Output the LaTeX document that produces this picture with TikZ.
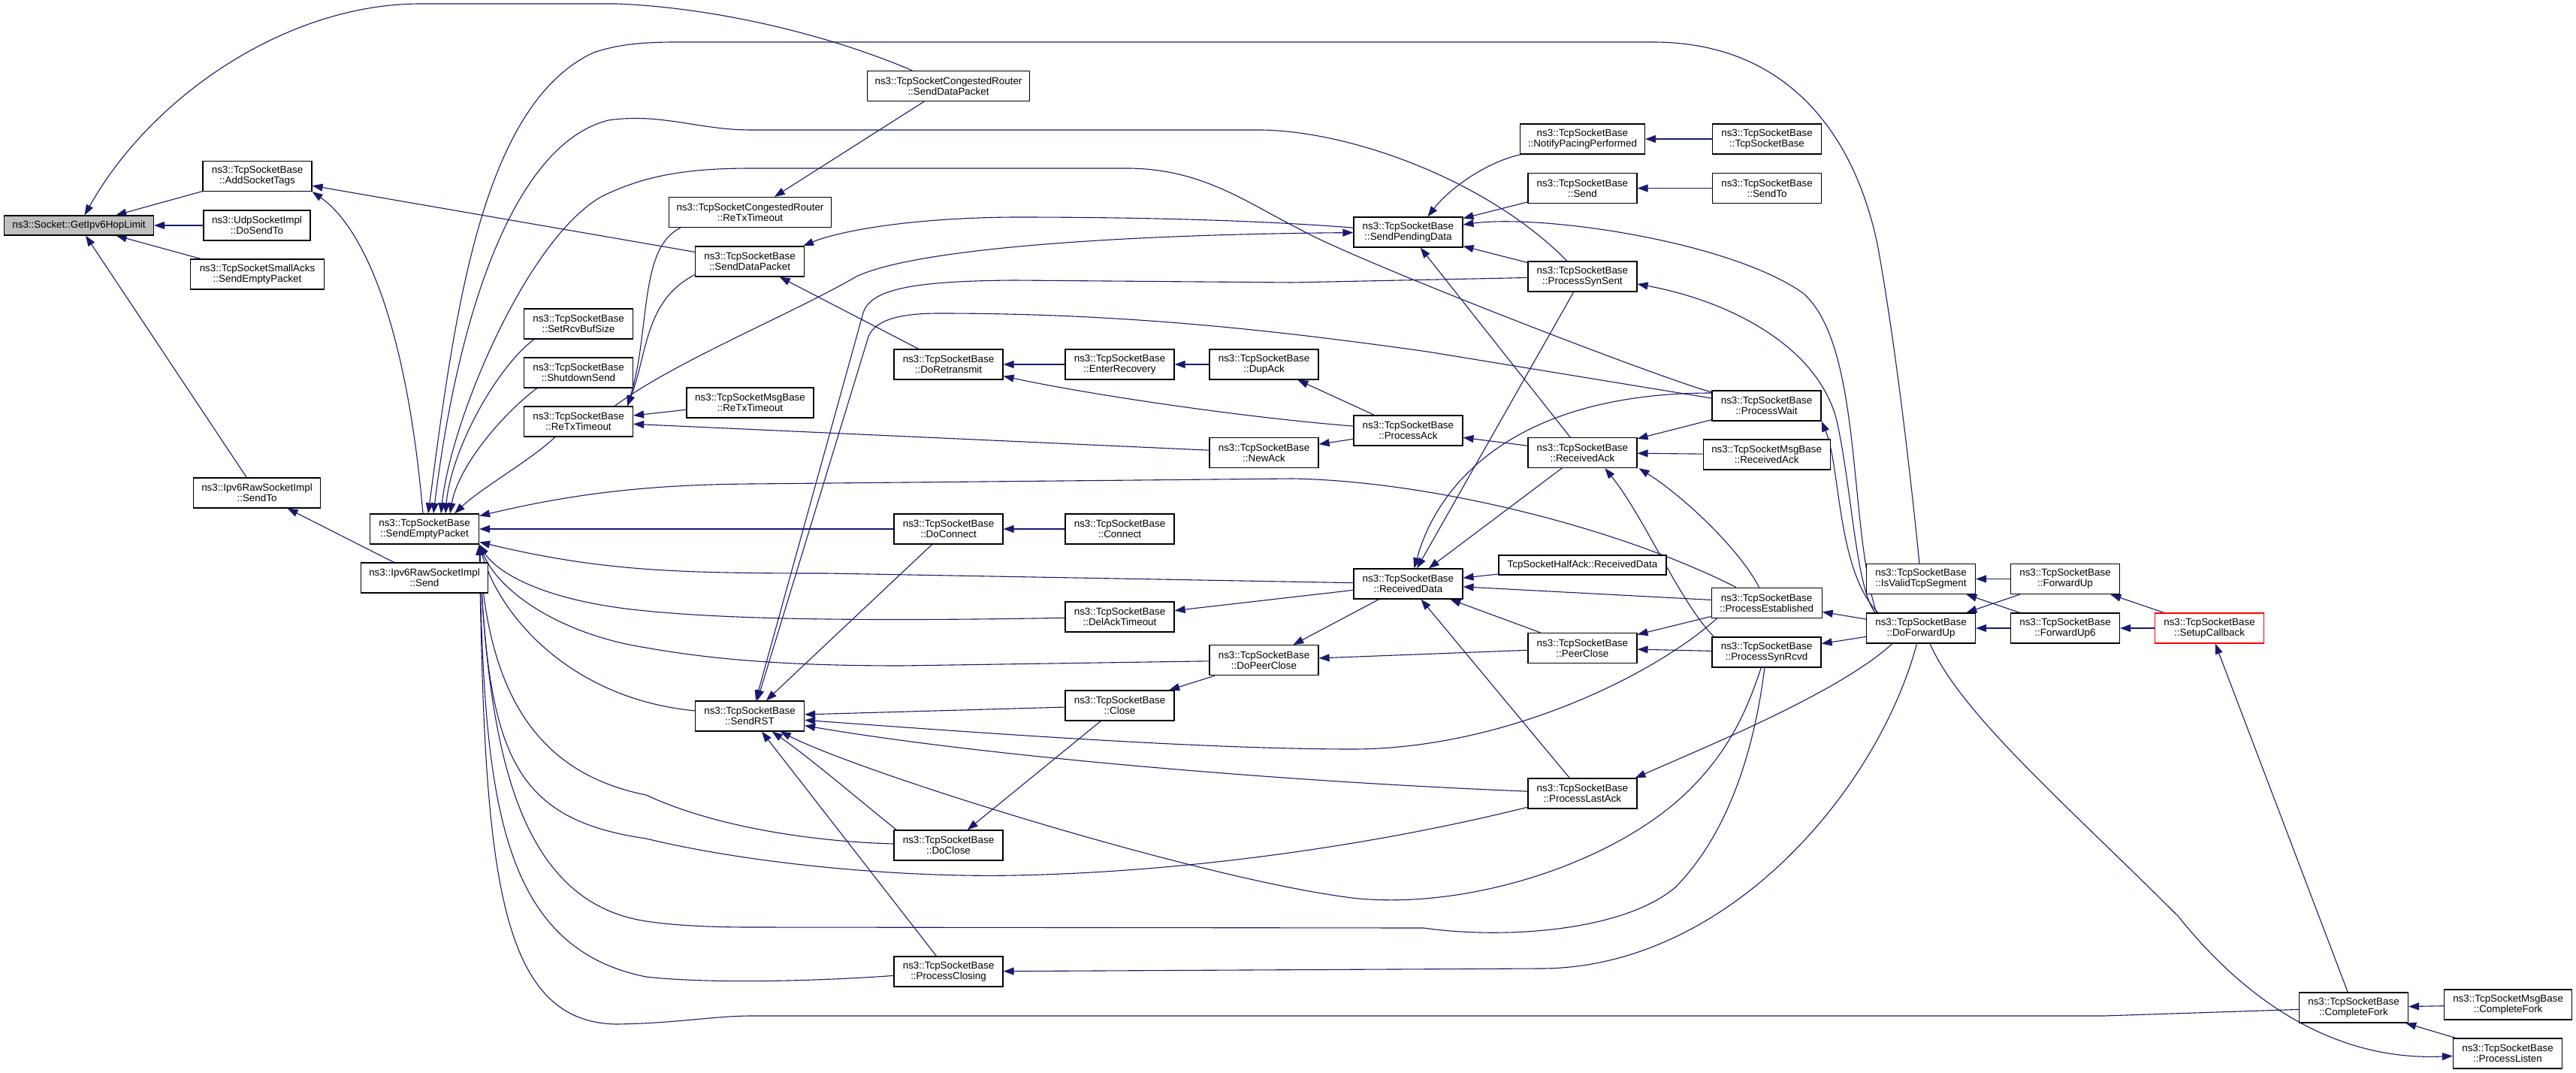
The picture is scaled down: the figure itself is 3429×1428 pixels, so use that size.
\documentclass[tikz,border=0pt]{standalone}
\usepackage{fontspec}
\setmainfont{Liberation Sans}
\usetikzlibrary{arrows.meta,calc}
\definecolor{mb}{HTML}{191970}
\definecolor{gbox}{HTML}{BFBFBF}
\pgfdeclarelayer{back}
\pgfdeclarelayer{edges}
\pgfsetlayers{back,edges,main}
\tikzset{
 nb/.style={draw=black, line width=0.6pt, fill=white, rectangle, inner sep=0pt, minimum height=20pt, minimum width=72.5pt, align=center, font=\fontsize{6.7}{7}\selectfont},
 e/.style={draw=mb, line width=0.55pt, {Triangle[length=7pt,width=5pt]}-}
}
\begin{document}
\begin{tikzpicture}[x=0.5pt,y=-0.5pt]
\useasboundingbox (0,0) rectangle (3429,1428);
\begin{pgfonlayer}{back}
\fill[white] (0,0) rectangle (3429,1428);
\end{pgfonlayer}
% nodes
\node[nb, fill=gbox, minimum width=99.5pt, minimum height=13pt] (G) at (105,300) {ns3::Socket::GetIpv6HopLimit};
\node[nb] (AST) at (342.5,234.5) {ns3::TcpSocketBase\\::AddSocketTags};
\node[nb, minimum width=71pt] (UDP) at (342,300) {ns3::UdpSocketImpl\\::DoSendTo};
\node[nb, minimum width=89pt] (SA) at (342.5,365) {ns3::TcpSocketSmallAcks\\::SendEmptyPacket};
\node[nb, minimum width=84.5pt] (RSTo) at (342,656) {ns3::Ipv6RawSocketImpl\\::SendTo};
\node[nb] (SEP) at (565,704) {ns3::TcpSocketBase\\::SendEmptyPacket};
\node[nb, minimum width=84.5pt] (RSend) at (565,769) {ns3::Ipv6RawSocketImpl\\::Send};
\node[nb] (SRB) at (770,431) {ns3::TcpSocketBase\\::SetRcvBufSize};
\node[nb] (SDS) at (770,496) {ns3::TcpSocketBase\\::ShutdownSend};
\node[nb] (RTO) at (770,561) {ns3::TcpSocketBase\\::ReTxTimeout};
\node[nb, minimum width=108pt] (CRSDP) at (1262.5,114.5) {ns3::TcpSocketCongestedRouter\\::SendDataPacket};
\node[nb, minimum width=108pt] (CRRTO) at (998.5,282.5) {ns3::TcpSocketCongestedRouter\\::ReTxTimeout};
\node[nb] (SDP) at (998,348) {ns3::TcpSocketBase\\::SendDataPacket};
\node[nb, minimum width=84.5pt] (MRTO) at (998.5,536) {ns3::TcpSocketMsgBase\\::ReTxTimeout};
\node[nb] (RST) at (998,953) {ns3::TcpSocketBase\\::SendRST};
\node[nb] (DRT) at (1262.5,485) {ns3::TcpSocketBase\\::DoRetransmit};
\node[nb] (DC) at (1262.5,704) {ns3::TcpSocketBase\\::DoConnect};
\node[nb] (DCL) at (1262.5,1125) {ns3::TcpSocketBase\\::DoClose};
\node[nb] (PCL) at (1262.5,1293) {ns3::TcpSocketBase\\::ProcessClosing};
\node[nb] (ER) at (1490.5,485) {ns3::TcpSocketBase\\::EnterRecovery};
\node[nb] (CON) at (1490.5,704) {ns3::TcpSocketBase\\::Connect};
\node[nb] (DAT) at (1490.5,821) {ns3::TcpSocketBase\\::DelAckTimeout};
\node[nb] (CLO) at (1490.5,939) {ns3::TcpSocketBase\\::Close};
\node[nb] (DA) at (1682.5,485) {ns3::TcpSocketBase\\::DupAck};
\node[nb] (NA) at (1682.5,602.5) {ns3::TcpSocketBase\\::NewAck};
\node[nb] (DPC) at (1682.5,878.7) {ns3::TcpSocketBase\\::DoPeerClose};
\node[nb] (SPD) at (1874.4,309) {ns3::TcpSocketBase\\::SendPendingData};
\node[nb] (PA) at (1874.4,573) {ns3::TcpSocketBase\\::ProcessAck};
\node[nb] (RD) at (1874.4,777) {ns3::TcpSocketBase\\::ReceivedData};
\node[nb, minimum width=83pt] (NPP) at (2106.4,185) {ns3::TcpSocketBase\\::NotifyPacingPerformed};
\node[nb] (SND) at (2106.4,250.5) {ns3::TcpSocketBase\\::Send};
\node[nb] (PSS) at (2106.4,368) {ns3::TcpSocketBase\\::ProcessSynSent};
\node[nb] (RA) at (2106.4,602.5) {ns3::TcpSocketBase\\::ReceivedAck};
\node[nb, minimum width=111.5pt, minimum height=13pt] (HA) at (2106.4,752) {TcpSocketHalfAck::ReceivedData};
\node[nb] (PC) at (2106.4,862.5) {ns3::TcpSocketBase\\::PeerClose};
\node[nb] (PLA) at (2106.4,1056) {ns3::TcpSocketBase\\::ProcessLastAck};
\node[nb] (TSBC) at (2352,185) {ns3::TcpSocketBase\\::TcpSocketBase};
\node[nb] (SNDT) at (2352,250.5) {ns3::TcpSocketBase\\::SendTo};
\node[nb] (PW) at (2351.5,540) {ns3::TcpSocketBase\\::ProcessWait};
\node[nb, minimum width=84.5pt] (MRA) at (2351.6,605) {ns3::TcpSocketMsgBase\\::ReceivedAck};
\node[nb, minimum width=73.5pt] (PE) at (2351.6,802.3) {ns3::TcpSocketBase\\::ProcessEstablished};
\node[nb] (PSR) at (2351.5,868) {ns3::TcpSocketBase\\::ProcessSynRcvd};
\node[nb] (IVT) at (2557,770.5) {ns3::TcpSocketBase\\::IsValidTcpSegment};
\node[nb] (DFU) at (2557,836) {ns3::TcpSocketBase\\::DoForwardUp};
\node[nb] (FU) at (2749,770.5) {ns3::TcpSocketBase\\::ForwardUp};
\node[nb] (FU6) at (2749,836) {ns3::TcpSocketBase\\::ForwardUp6};
\node[nb, draw=red] (SC) at (2941,836) {ns3::TcpSocketBase\\::SetupCallback};
\node[nb] (CF) at (3133,1341) {ns3::TcpSocketBase\\::CompleteFork};
\node[nb, minimum width=85pt] (MCF) at (3338.6,1337) {ns3::TcpSocketMsgBase\\::CompleteFork};
\node[nb] (PL) at (3338,1402) {ns3::TcpSocketBase\\::ProcessListen};
% edges
\begin{pgfonlayer}{edges}
% straight
\draw[e] (G) -- (AST);
\draw[e] (G) -- (UDP);
\draw[e] (G) -- (SA);
\draw[e] (G) -- (RSTo);
\draw[e] (RSTo) -- (RSend);
\draw[e] (AST) -- (SDP);
\draw[e] (CRRTO) -- (CRSDP);
\draw[e] (SDP) -- (DRT);
\draw[e] (DRT) -- (ER);
\draw[e] (ER) -- (DA);
\draw[e] (RTO) -- (MRTO);
\draw[e] (RTO) -- (NA);
\draw[e] (SEP) -- (DC);
\draw[e] (DC) -- (CON);
\draw[e] (RST) -- (DC);
\draw[e] (RST) -- (CLO);
\draw[e] (RST) -- (PCL);
\draw[e] (DCL) -- (CLO);
\draw[e] (CLO) -- (DPC);
\draw[e] (DPC) -- (PC);
\draw[e] (DPC) -- (RD);
\draw[e] (DAT) -- (RD);
\draw[e] (NA) -- (PA);
\draw[e] (DA) -- (PA);
\draw[e] (PA) -- (RA);
\draw[e] (SPD) -- (SND);
\draw[e] (SPD) -- (PSS);
\draw[e] (SPD) -- (RA);
\draw[e] (NPP) -- (TSBC);
\draw[e] (SND) -- (SNDT);
\draw[e] (RD) -- (PSS);
\draw[e] (RD) -- (RA);
\draw[e] (RD) -- (HA);
\draw[e] (RD) -- (PE);
\draw[e] (RD) -- (PC);
\draw[e] (RD) -- (PLA);
\draw[e] (RA) -- (PW);
\draw[e] (RA) -- (MRA);
\draw[e] (PC) -- (PE);
\draw[e] (PC) -- (PSR);
\draw[e] (PE) -- (DFU);
\draw[e] (PSR) -- (DFU);
\draw[e] (IVT) -- (FU);
\draw[e] (DFU) -- (FU);
\draw[e] (IVT) -- (FU6);
\draw[e] (DFU) -- (FU6);
\draw[e] (FU) -- (SC);
\draw[e] (FU6) -- (SC);
\draw[e] (SC) -- (CF);
\draw[e] (CF) -- (MCF);
\draw[e] (CF) -- (PL);
% curves
\draw[e] (G) .. controls (200,130) and (380,5) .. (560,5) -- (820,5) .. controls (950,10) and (1100,45) .. (CRSDP);
\draw[e] ($(SEP.north)+(5,0)$) .. controls (605,420) and (640,140) .. (790,70) .. controls (820,60) and (850,56) .. (900,56) -- (2200,56) .. controls (2380,56) and (2470,180) .. (2500,330) .. controls (2525,470) and (2545,650) .. (IVT);
\draw[e] ($(SEP.north)+(12,0)$) .. controls (612,400) and (690,190) .. (810,160) .. controls (880,150) and (930,173) .. (1000,173) -- (1680,173) .. controls (1800,175) and (1980,240) .. (PSS);
\draw[e] ($(SEP.north)+(22,0)$) .. controls (600,560) and (700,320) .. (800,262) .. controls (860,232) and (920,224) .. (1000,224) -- (1500,224) .. controls (1600,224) and (1660,270) .. (1730,305) .. controls (1800,345) and (2200,500) .. ($(PW.west)+(0,-18)$);
\draw[e] (AST.south east) .. controls (480,300) and (540,420) .. ($(SEP.north)+(-2,0)$);
\draw[e] ($(SEP.north)+(28,0)$) .. controls (600,600) and (660,490) .. ($(SRB.south west)+(14,0)$);
\draw[e] ($(SEP.north)+(34,0)$) .. controls (610,620) and (670,550) .. ($(SDS.south west)+(18,0)$);
\draw[e] ($(SEP.north)+(40,0)$) .. controls (640,650) and (710,610) .. ($(RTO.south west)+(42,0)$);
\draw[e] (SPD) .. controls (1500,312) and (1220,330) .. (1140,368) .. controls (1050,420) and (900,480) .. ($(RTO.north east)+(-25,0)$);
\draw[e] ($(RTO.north east)+(-8,0)$) .. controls (862,470) and (858,400) .. ($(SDP.south west)+(0,-3)$);
\draw[e] ($(RTO.north east)+(-8,0)$) .. controls (866,440) and (850,330) .. ($(CRRTO.south west)+(16,0)$);
\draw[e] ($(SDP.north east)+(-2,0)$) .. controls (1110,310) and (1200,290) .. (1350,289) .. controls (1550,289) and (1700,295) .. (SPD);
\draw[e] ($(SPD.north)+(26,0)$) .. controls (1930,250) and (1980,215) .. ($(NPP.south west)+(2,0)$);
\draw[e] ($(SPD.east)+(0,-10)$) .. controls (2050,285) and (2300,320) .. (2400,390) .. controls (2480,460) and (2460,700) .. ($(DFU.north west)+(14,0)$);
\draw[e] ($(PSS.east)+(0,10)$) .. controls (2300,400) and (2420,460) .. (2445,560) .. controls (2465,650) and (2470,780) .. ($(DFU.north west)+(12,0)$);
\draw[e] (PW.south east) .. controls (2450,620) and (2445,760) .. ($(DFU.north west)+(16,0)$);
\draw[e] ($(RST.north)+(8,0)$) -- (1148,420) .. controls (1155,388) and (1200,374) .. (1350,373) -- (1720,376) -- (PSS);
\draw[e] ($(RST.north)+(10,0)$) -- (1156,448) .. controls (1165,425) and (1200,417) .. (1250,417) .. controls (1500,417) and (1700,440) .. (1900,468) -- ($(PW.west)+(0,-10)$);
\draw[e] ($(RD.north)+(8,0)$) .. controls (1915,640) and (2020,523) .. ($(PW.west)+(0,-17)$);
\draw[e] ($(RA.south east)+(2,0)$) .. controls (2240,660) and (2315,730) .. ($(PE.north)+(-10,0)$);
\draw[e] ($(RA.south)+(30,0)$) .. controls (2190,690) and (2235,800) .. ($(PSR.north west)+(3,0)$);
\draw[e] (DRT) .. controls (1450,525) and (1650,555) .. (PA);
\draw[e] (SEP) .. controls (800,760) and (900,763) .. (1100,763) -- (RD);
\draw[e] (SEP) .. controls (750,660) and (850,645) .. (1000,644) -- (1720,637) .. controls (1900,640) and (2150,700) .. (PE);
\draw[e] (SEP.south east) .. controls (660,760) and (720,800) .. (860,813) .. controls (950,822) and (1100,828) .. (DAT);
\draw[e] (SEP.south east) .. controls (665,790) and (750,845) .. (860,862) .. controls (950,878) and (1050,886) .. (1200,886) -- (DPC);
\draw[e] (SEP.south east) .. controls (665,820) and (760,930) .. (RST);
\draw[e] (SEP.south east) .. controls (650,930) and (720,1030) .. (860,1058) .. controls (950,1100) and (1080,1120) .. (DCL);
\draw[e] (SEP.south east) .. controls (650,1000) and (680,1090) .. (860,1116) .. controls (1000,1150) and (1200,1168) .. (1350,1165) .. controls (1600,1160) and (1850,1120) .. (PLA);
\draw[e] (SEP.south east) .. controls (650,1000) and (690,1200) .. (860,1226) .. controls (900,1232) and (950,1234) .. (1000,1234) -- (1895,1235) .. controls (2000,1250) and (2160,1240) .. (2230,1181) .. controls (2300,1110) and (2335,1000) .. (PSR);
\draw[e] (SEP.south east) .. controls (645,1050) and (660,1260) .. (860,1300) .. controls (950,1310) and (1100,1305) .. (PCL);
\draw[e] (SEP.south east) .. controls (645,1150) and (660,1360) .. (820,1363) .. controls (900,1362) and (950,1352) .. (1000,1352) -- (2800,1352) -- (CF);
\draw[e] (RST) .. controls (1300,975) and (1600,997) .. (1800,997) .. controls (2000,997) and (2200,900) .. ($(PE.south west)+(8,0)$);
\draw[e] (RST) .. controls (1300,1005) and (1700,1040) .. (PLA);
\draw[e] (RST) .. controls (1150,1030) and (1600,1170) .. (1800,1195) .. controls (1950,1212) and (2150,1150) .. (2250,1050) .. controls (2310,990) and (2330,930) .. (PSR);
\draw[e] (RST) .. controls (1080,1010) and (1150,1070) .. ($(DCL.north west)+(4,0)$);
\draw[e] (PCL) -- (2050,1289) .. controls (2300,1289) and (2500,1050) .. (DFU);
\draw[e] ($(PLA.north east)+(-3,0)$) .. controls (2280,990) and (2450,920) .. ($(DFU.south west)+(35,0)$);
\draw[e] (PL) .. controls (3120,1412) and (3000,1345) .. (2900,1220) .. controls (2750,1070) and (2610,950) .. ($(DFU.south)+(12,0)$);
\end{pgfonlayer}
\end{tikzpicture}
\end{document}
